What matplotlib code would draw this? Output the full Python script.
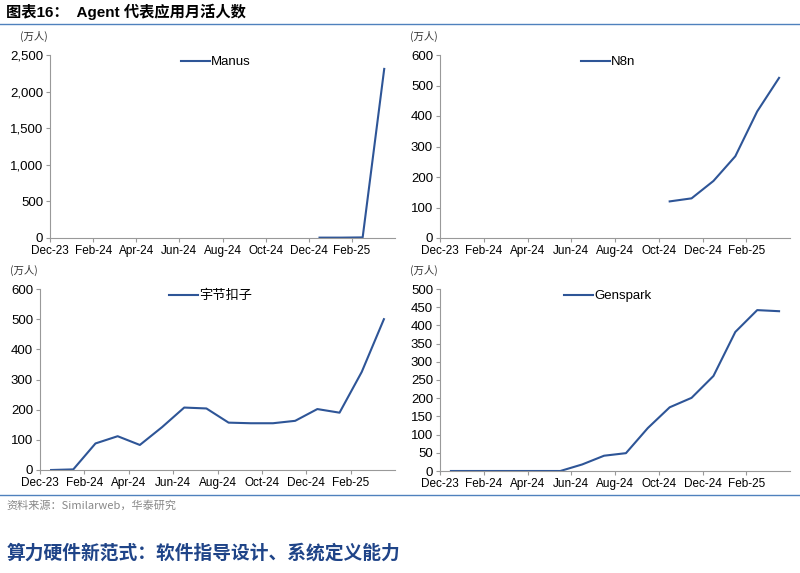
import matplotlib
matplotlib.use("Agg")
import matplotlib.pyplot as plt
import numpy as np
from matplotlib.lines import Line2D

plt.rcParams['font.family'] = ['Liberation Sans', 'Noto Sans CJK SC', 'DejaVu Sans']

months = ["Dec-23","Jan-24","Feb-24","Mar-24","Apr-24","May-24","Jun-24","Jul-24",
          "Aug-24","Sep-24","Oct-24","Nov-24","Dec-24","Jan-25","Feb-25","Mar-25"]
manus = [None]*12 + [5, 5, 8, 2310]
n8n = [None]*10 + [120, 130, 187, 268, 415, 525]
coze = [0, 2, 88, 112, 83, 142, 207, 204, 157, 155, 155, 163, 202, 190, 325, 500]
genspark = [0, 0, 0, 0, 0, 0, 18, 42, 49, 118, 175, 201, 261, 382, 442, 439]

panels = [
    ("Manus", manus, 2500, 500, True),
    ("N8n", n8n, 600, 100, False),
    ("宇节扣子", coze, 600, 100, False),
    ("Genspark", genspark, 500, 50, False),
]
W, H = 800, 573
fig = plt.figure(figsize=(W/100, H/100), dpi=100)
color = "#2E5597"
boxes = [(50, 55, 395, 238), (440, 55, 790, 238), (40, 289, 395, 470), (440, 289, 790, 471)]
for (name, data, ymax, step, comma), (x0, y0, x1, y1) in zip(panels, boxes):
    ax = fig.add_axes([x0/W, 1-y1/H, (x1-x0)/W, (y1-y0)/H])
    xs = [i+0.5 for i, v in enumerate(data) if v is not None]
    ys = [v for v in data if v is not None]
    ax.plot(xs, ys, color=color, lw=1.5)
    ax.set_xlim(0, 16)
    ax.set_ylim(0, ymax)
    ax.set_xticks(range(0, 16, 2))
    ax.set_xticklabels(months[0::2], fontsize=8.5)
    yt = np.arange(0, ymax+1, step)
    ax.set_yticks(yt)
    ax.set_yticklabels([f"{v:,}" if comma else f"{v}" for v in yt], fontsize=9.5)
    for s in ("top", "right"):
        ax.spines[s].set_visible(False)
    for s in ("left", "bottom"):
        ax.spines[s].set_color("#999999")
    ax.tick_params(length=3, color="#999999", pad=2)
    ax.legend(handles=[Line2D([], [], color=color, lw=1.5)], labels=[name],
              loc="upper center", frameon=False, fontsize=9.5, handlelength=2.2,
              handletextpad=0.1, bbox_to_anchor=(0.48, 1.06))
    fig.text((x0-40)/W + 0.0125, 1-(y0-19)/H, "(万人)", fontsize=7.5, color="#333333",
             va="center", family=['Noto Sans CJK SC'])

fig.text(0.008, 1-12/H, "图表16：  Agent 代表应用月活人数", fontsize=11, weight="bold",
         va="center", family=['Liberation Sans', 'Noto Sans CJK SC'])
fig.add_artist(Line2D([0, 1], [1-24/H, 1-24/H], color="#4F81BD", lw=1))
fig.add_artist(Line2D([0, 1], [1-495/H, 1-495/H], color="#4F81BD", lw=1))
fig.text(0.008, 1-505/H, "资料来源：Similarweb，华泰研究", fontsize=8, color="#888888",
         va="center", family=['Noto Sans CJK SC', 'DejaVu Sans'])
fig.text(0.008, 1-553/H, "算力硬件新范式：软件指导设计、系统定义能力", fontsize=13.5,
         weight="bold", color="#1F4488", va="center", family=['Noto Sans CJK SC'])
fig.savefig("out.png", dpi=100)
